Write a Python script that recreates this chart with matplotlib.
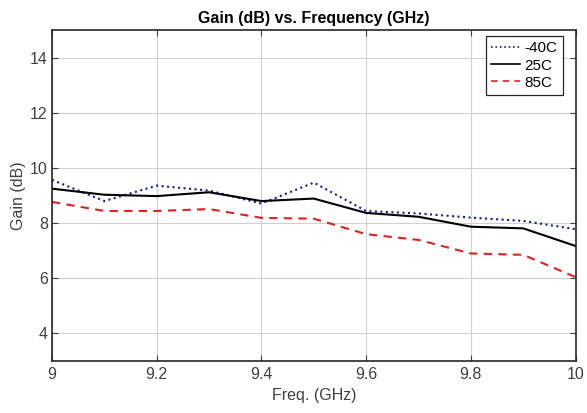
import matplotlib
matplotlib.use('Agg')
from matplotlib import pyplot as plt

plt.rcParams['font.family'] = ['Liberation Sans', 'DejaVu Sans']

# frequency points (GHz) and gain (dB) per temperature
freq = [9.0, 9.1, 9.2, 9.3, 9.4, 9.5, 9.6, 9.7, 9.8, 9.9, 10.0]
gain_m40 = [9.57, 8.80, 9.36, 9.18, 8.71, 9.47, 8.44, 8.35, 8.20, 8.08, 7.78]
gain_25 = [9.25, 9.03, 8.98, 9.12, 8.80, 8.89, 8.37, 8.23, 7.87, 7.81, 7.17]
gain_85 = [8.77, 8.44, 8.44, 8.51, 8.19, 8.16, 7.60, 7.39, 6.90, 6.85, 6.04]

fig = plt.figure(figsize=(5.87, 4.13), dpi=100)
ax = fig.add_axes([0.0886, 0.126, 0.892, 0.801])

ax.plot(freq, gain_m40, color='#1a1a99', linestyle=':', linewidth=1.5, label='-40C')
ax.plot(freq, gain_25, color='black', linestyle='-', linewidth=1.5, label='25C')
ax.plot(freq, gain_85, color='#e02020', linestyle='--', linewidth=1.5, dashes=(4, 3), label='85C')

ax.set_xlim(9, 10)
ax.set_ylim(3, 15)
ax.set_xticks([9, 9.2, 9.4, 9.6, 9.8, 10])
ax.set_xticklabels(['9', '9.2', '9.4', '9.6', '9.8', '10'])
ax.set_yticks([4, 6, 8, 10, 12, 14])

ax.grid(True, color='#d0d0d0', linewidth=0.8)
ax.set_axisbelow(True)
ax.tick_params(direction='in', top=True, right=True, labelsize=11.5, colors='#404040', length=4)
ax.tick_params(axis='x', pad=4)
ax.tick_params(axis='y', pad=3)
for s in ax.spines.values():
    s.set_color('#262626')
    s.set_linewidth(1.2)

ax.set_xlabel('Freq. (GHz)', fontsize=11.5, color='#404040', labelpad=5)
ax.set_ylabel('Gain (dB)', fontsize=11.5, color='#404040', labelpad=3)
ax.set_title('Gain (dB) vs. Frequency (GHz)', fontsize=11.5, fontweight='bold', pad=5)

leg = ax.legend(loc='upper right', bbox_to_anchor=(0.975, 0.982), borderaxespad=0,
                fontsize=11, fancybox=False, framealpha=1, edgecolor='#262626',
                handlelength=1.9, handletextpad=0.25, labelspacing=0.2, borderpad=0.35)
leg.get_frame().set_linewidth(0.9)
for h in leg.get_lines():
    h.set_linewidth(1.2)

plt.savefig('out.png', dpi=100)
